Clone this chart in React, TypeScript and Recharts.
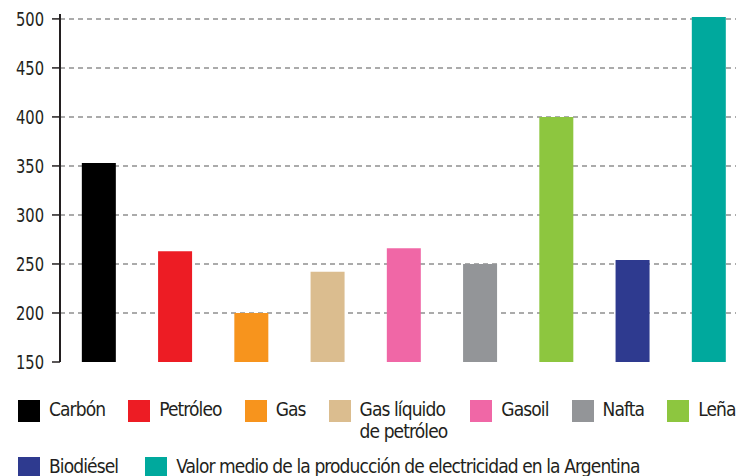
import React from "react";
import { BarChart, Bar, XAxis, YAxis, CartesianGrid, Cell } from "recharts";

const categories = [
  "Carbón",
  "Petróleo",
  "Gas",
  "Gas líquido\nde petróleo",
  "Gasoil",
  "Nafta",
  "Leña",
  "Biodiésel",
  "Valor medio de la producción de electricidad en la Argentina",
];
const values = [353, 263, 200, 242, 266, 250, 400, 254, 502];
const colors = [
  "#000000",
  "#ed1c24",
  "#f7941d",
  "#dbbd8f",
  "#f067a6",
  "#939598",
  "#8dc63f",
  "#2e3a8f",
  "#00a99d",
];
const yTicks = [150, 200, 250, 300, 350, 400, 450, 500];
const gridValues = [200, 250, 300, 350, 400, 450, 500];

const data = categories.map((name, i) => ({ idx: i, name, value: values[i] }));

const FONT = '"DejaVu Sans Condensed", "DejaVu Sans", sans-serif';
const INK = "#231f20";

const row1 = [0, 1, 2, 3, 4, 5, 6];
const row2 = [7, 8];

function YTick(props: any) {
  const { x, y, payload } = props;
  return (
    <text
      transform={`translate(${x},${y}) scale(0.84,1)`}
      textAnchor="end"
      dy="0.36em"
      fontFamily={FONT}
      fontSize={19.5}
      fill={INK}
    >
      {payload.value}
    </text>
  );
}

function LegendRow({ items, top, gap }: { items: number[]; top: number; gap: number }) {
  return (
    <div
      style={{
        position: "absolute",
        top,
        left: 18,
        display: "flex",
        alignItems: "flex-start",
        columnGap: gap,
        whiteSpace: "nowrap",
      }}
    >
      {items.map((i) => (
        <div key={i} style={{ display: "flex", alignItems: "flex-start" }}>
          <div
            style={{
              width: 22,
              height: 22,
              marginTop: 2,
              background: colors[i],
              flex: "none",
            }}
          />
          <div
            style={{
              marginLeft: 9,
              fontFamily: FONT,
              fontSize: 19,
              letterSpacing: "-0.9px",
              lineHeight: "22px",
              color: INK,
              whiteSpace: "pre",
            }}
          >
            {categories[i]}
          </div>
        </div>
      ))}
    </div>
  );
}

export default function App() {
  return (
    <div
      style={{
        position: "absolute",
        left: 0,
        top: 0,
        width: 736,
        height: 476,
        overflow: "hidden",
        background: "#ffffff",
      }}
    >
      <BarChart
        width={736}
        height={476}
        data={data}
        margin={{ top: 14, right: 0, bottom: 114, left: 0 }}
      >
        <CartesianGrid
          horizontal
          vertical={false}
          horizontalValues={gridValues}
          stroke="#ababab"
          strokeWidth={2}
          strokeDasharray="5 4"
        />
        <XAxis
          type="number"
          dataKey="idx"
          domain={[-0.511, 8.355]}
          allowDataOverflow
          tick={false}
          tickLine={false}
          height={0}
          axisLine={{ stroke: INK, strokeWidth: 2 }}
        />
        <YAxis
          type="number"
          domain={[150, 505]}
          allowDataOverflow
          ticks={yTicks}
          interval={0}
          width={60}
          tickSize={8}
          tickMargin={8}
          axisLine={{ stroke: INK, strokeWidth: 2 }}
          tickLine={{ stroke: INK, strokeWidth: 1.5 }}
          tick={<YTick />}
        />
        <Bar dataKey="value" barSize={34} isAnimationActive={false}>
          {data.map((d, i) => (
            <Cell key={d.name} fill={colors[i]} />
          ))}
        </Bar>
      </BarChart>
      <LegendRow items={row1} top={398} gap={23} />
      <LegendRow items={row2} top={455} gap={27} />
    </div>
  );
}
